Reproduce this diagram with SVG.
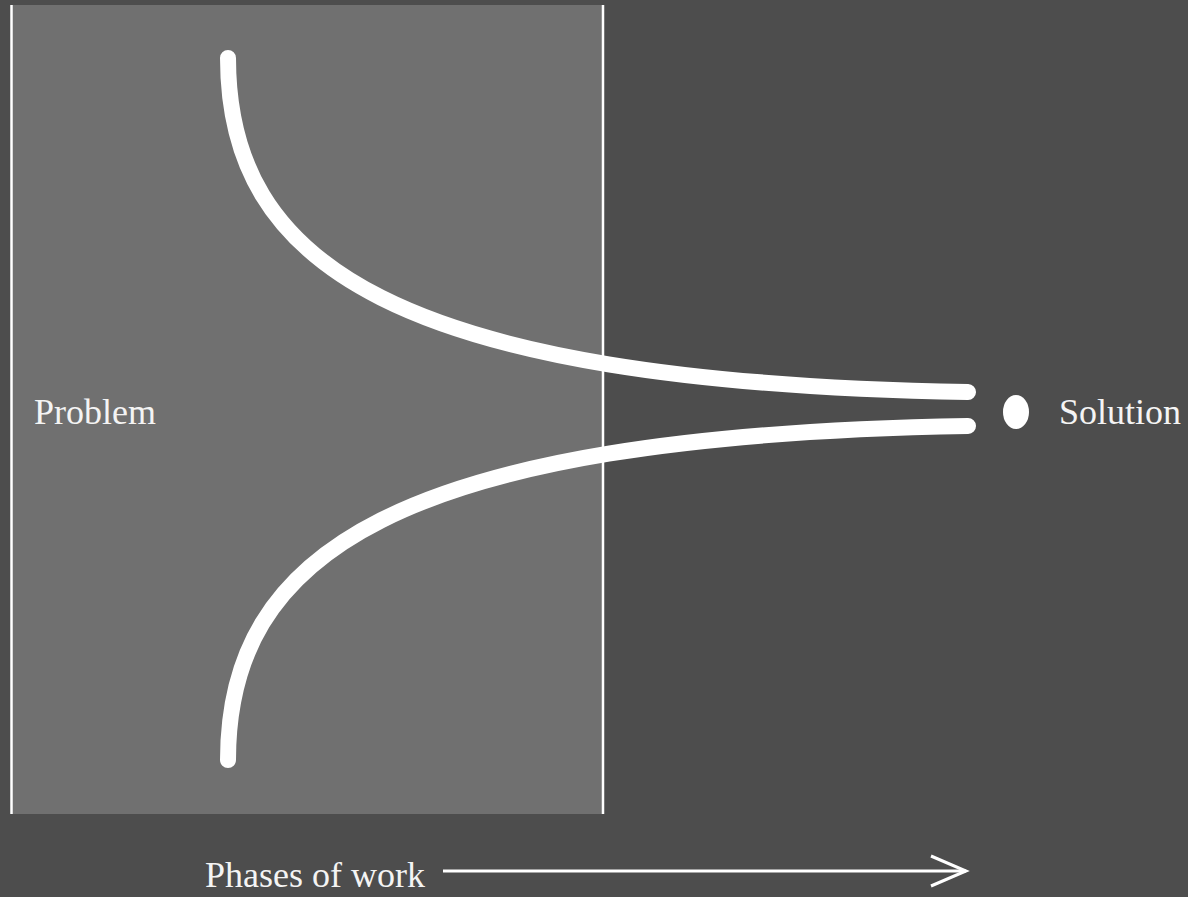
<svg xmlns="http://www.w3.org/2000/svg" width="1188" height="897" viewBox="0 0 1188 897">
<style>
.lbl{font-family:"Liberation Serif","DejaVu Serif",serif;font-size:36px;fill:#f4f4f4}
.curve{fill:none;stroke:#fff;stroke-width:16;stroke-linecap:round}
.edge{stroke:#fff;stroke-width:2.5}
</style>
<rect width="1188" height="897" fill="#4d4d4d"/>
<g id="phase-box">
<rect x="11" y="5" width="592" height="809" fill="#707070"/>
<line class="edge" x1="11.5" y1="5" x2="11.5" y2="814"/>
<line class="edge" x1="603" y1="5" x2="603" y2="814"/>
</g>
<g id="connectors">
<path class="curve" d="M228,58 C228,262 390,382 968,392"/>
<path class="curve" d="M228,760 C228,556 390,436 968,426"/>
<line x1="443" y1="871" x2="966" y2="871" stroke="#fff" stroke-width="3"/>
<polyline points="931,856 966,871 931,886" fill="none" stroke="#fff" stroke-width="3"/>
</g>
<g id="problem"><text class="lbl" x="34" y="424">Problem</text></g>
<g id="solution">
<ellipse cx="1016" cy="412" rx="13" ry="17" fill="#fff"/>
<text class="lbl" x="1059" y="424">Solution</text>
</g>
<g id="phases"><text class="lbl" x="205" y="887">Phases of work</text></g>
</svg>
